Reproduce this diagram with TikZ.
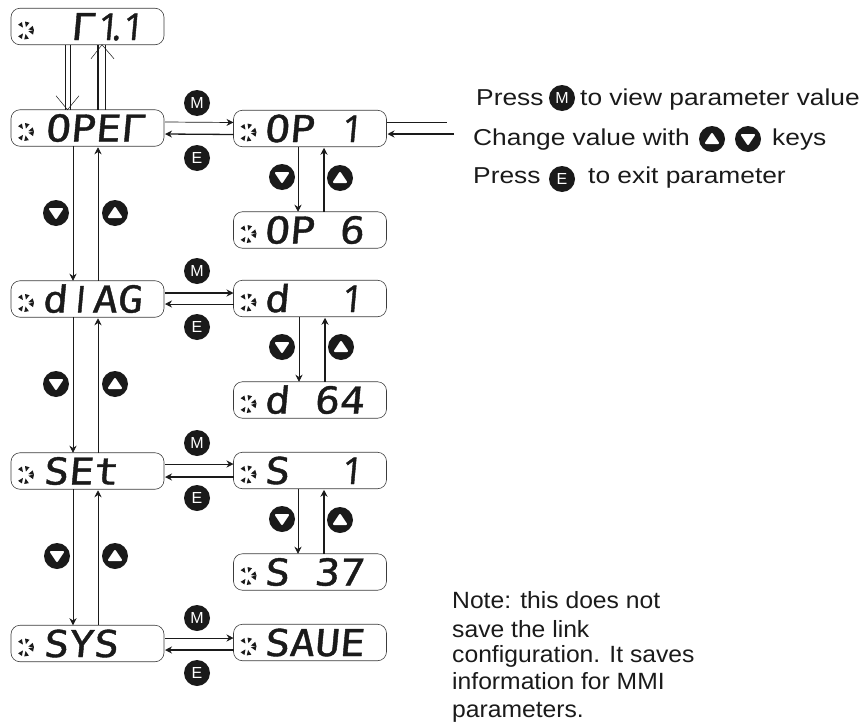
\documentclass[tikz,border=0pt]{standalone}
\usepackage{fontspec}
\setmainfont{Liberation Sans}
\newfontfamily\lcdfont[FakeSlant=0.09,FakeStretch=1.12,FakeBold=1.1]{DejaVu Sans Mono}
\newfontfamily\lcdbar[FakeSlant=0.09,FakeBold=1.1]{Open Sans}
\newfontfamily\bodyfont[FakeStretch=1.145]{Liberation Sans}
\newfontfamily\notefont[FakeStretch=1.05]{Liberation Sans}
\usetikzlibrary{arrows.meta,calc}
\definecolor{ink}{HTML}{1A1A1A}
\newcommand{\barchar}[1]{\makebox[25pt][c]{\lcdbar\fontsize{37}{37}\selectfont #1}}
\tikzset{
  x=1pt,y=-1pt,
  display/.style={draw=ink!85,line width=0.6pt,rounded corners=9pt,minimum width=153pt,minimum height=36.5pt,inner sep=0pt,outer sep=0pt},
  lcd/.style={anchor=base west,inner sep=0pt,text=ink,font=\lcdfont\fontsize{37}{37}\selectfont},
  thinarr/.style={draw=ink,line width=0.7pt,-{Stealth[length=7pt,width=7pt]}},
  thickarr/.style={draw=ink,line width=1.3pt,-{Stealth[length=7pt,width=7pt]}},
  keydisc/.style={circle,fill=ink,minimum size=26pt,inner sep=0pt,text=white,font=\fontsize{16}{16}\selectfont},
  body/.style={anchor=base west,inner sep=0pt,text=ink,font=\bodyfont\fontsize{23}{23}\selectfont},
  note/.style={anchor=base west,inner sep=0pt,text=ink,font=\notefont\fontsize{23.5}{23.5}\selectfont},
  pics/fan/.style={code={
    \foreach \a in {12,-16,80,125,235,285}
      \fill[ink] (\a-15:9)--(\a+15:9)--(\a:3.5)--cycle;}},
  pics/downtri/.style={code={\fill[white,draw=white,line width=2pt,line join=round] (-6,-4)--(6,-4)--(0,5)--cycle;}},
  pics/uptri/.style={code={\fill[white,draw=white,line width=2pt,line join=round] (-6,4)--(6,4)--(0,-5)--cycle;}},
}
\newcommand{\disp}[5]{% name, centre x, centre y, text start x, text
  \node[display] (#1) at (#2,#3) {};
  \pic at ($(#1.west)+(14,4)$) {fan};
  \node[lcd] (#1t) at (#4,#3+13.5) {#5};}
\begin{document}
\begin{tikzpicture}
\useasboundingbox (0,0) rectangle (863,723);
% left column
\disp{root}{87.5}{26.5}{45}{\makebox[25pt]{}Γ\barchar{1}\rlap{\kern-9pt\lcdbar\fontsize{37}{37}\selectfont .}\barchar{1}}
\disp{oper}{87.5}{128}{45}{OPEΓ}
\disp{diag}{87.5}{299}{42}{d\barchar{I}AG}
\disp{setm}{87.5}{471}{43}{SEt}
\disp{sysm}{87.5}{643.5}{43}{SYS}
% right column
\disp{opa}{310}{128.5}{264}{OP \barchar{1}}
\disp{opb}{310}{230}{264}{OP 6}
\disp{da}{310}{298.5}{264}{d\makebox[50pt]{}\barchar{1}}
\disp{db}{310}{400}{264}{d 64}
\disp{sa}{310}{470.5}{264}{S\makebox[50pt]{}\barchar{1}}
\disp{sb}{310}{572}{264}{S 37}
\disp{save}{310}{642.5}{264}{SAUE}
% double arrows root <-> oper
\draw[ink,line width=1pt] ([xshift=-22.5pt]root.south) -- ([xshift=-22.5pt]oper.north);
\draw[ink,line width=1pt] ([xshift=-17.5pt]root.south) -- ([xshift=-17.5pt]oper.north);
\draw[ink,line width=0.5pt] ([xshift=-31.5pt,yshift=14pt]oper.north) -- ([xshift=-20pt]oper.north) -- ([xshift=-8.5pt,yshift=14pt]oper.north);
\draw[ink,line width=1.2pt] ([xshift=10.5pt]oper.north) -- ([xshift=10.5pt]root.south);
\draw[ink,line width=0.7pt] ([xshift=17.5pt]oper.north) -- ([xshift=17.5pt]root.south);
\draw[ink,line width=0.5pt] ([xshift=3.5pt,yshift=-14pt]root.south) -- ([xshift=14.5pt]root.south) -- ([xshift=26.5pt,yshift=-14pt]root.south);
% left vertical
\foreach \u/\v in {oper/diag,diag/setm,setm/sysm}{
  \draw[thinarr] ([xshift=-14.5pt]\u.south) -- ([xshift=-14.5pt]\v.north);
  \draw[thinarr] ([xshift=10.5pt]\v.north) -- ([xshift=10.5pt,yshift=-1pt]\u.south);
}
% right vertical
\draw[thinarr] ([xshift=-12pt]opa.south) -- ([xshift=-12pt]opb.north);
\draw[thickarr] ([xshift=14pt]opb.north) -- ([xshift=14pt,yshift=-1pt]opa.south);
\draw[thinarr] ([xshift=-11pt]da.south) -- ([xshift=-11pt]db.north);
\draw[thickarr] ([xshift=15pt]db.north) -- ([xshift=15pt,yshift=-1pt]da.south);
\draw[thinarr] ([xshift=-12pt]sa.south) -- ([xshift=-12pt]sb.north);
\draw[thickarr] ([xshift=14pt]sb.north) -- ([xshift=14pt,yshift=-1pt]sa.south);
% horizontal
\draw[thinarr] ([yshift=6pt,xshift=1pt]oper.east) -- ([yshift=6pt]opa.west);
\draw[thickarr] ([yshift=-6pt]opa.west) -- ([yshift=-6pt,xshift=1pt]oper.east);
\draw[thickarr] ([yshift=6pt,xshift=1pt]diag.east) -- ([yshift=5.5pt]da.west);
\draw[thinarr] ([yshift=-5.5pt]da.west) -- ([yshift=-5pt,xshift=1pt]diag.east);
\draw[thinarr] ([yshift=7pt,xshift=1pt]setm.east) -- ([yshift=6.5pt]sa.west);
\draw[thickarr] ([yshift=-6.5pt]sa.west) -- ([yshift=-6pt,xshift=1pt]setm.east);
\draw[thinarr] ([yshift=5.5pt,xshift=1pt]sysm.east) -- ([yshift=4.5pt]save.west);
\draw[thickarr] ([yshift=-7.5pt]save.west) -- ([yshift=-6.5pt,xshift=1pt]sysm.east);
% right feed lines
\coordinate (fa) at (447,122);
\coordinate (fb) at (454,134);
\draw[ink,line width=0.6pt] (opa.east |- fa) -- (fa);
\draw[thickarr] (fb) -- ([xshift=1pt]opa.east |- fb);
% keys
\foreach \n/\x/\y in {m1/197/103,m2/197/271,m3/197/443,m4/197/618,m5/562/98}
  \node[keydisc] (\n) at (\x,\y) {M};
\foreach \n/\x/\y in {e1/197/158,e2/197/327,e3/197/498,e4/197/673,e5/562/179}
  \node[keydisc] (\n) at (\x,\y) {E};
\foreach \n/\x/\y in {d1/56/213,d2/56/384,d3/57/556,d4/282/177,d5/282/347,d6/282/519,d7/748/139}{
  \node[keydisc] (\n) at (\x,\y) {};
  \pic at (\n) {downtri};}
\foreach \n/\x/\y in {u1/115/213,u2/115/384,u3/115/556,u4/340/178,u5/341/347,u6/340/520,u7/712/139}{
  \node[keydisc] (\n) at (\x,\y) {};
  \pic at (\n) {uptri};}
% instructions
\node[body] (t1) at (476,105) {Press};
\node[body] (t2) at (580,105) {to view parameter value};
\node[body] (t3) at (473,145) {Change value with};
\node[body] (t4) at (772,145) {keys};
\node[body] (t5) at (473,183) {Press};
\node[body] (t6) at (588,183) {to exit parameter};
% note
\node[note] (n1) at (452,608) {Note: this does not};
\node[note] (n2) at (452,637) {save the link};
\node[note] (n3) at (452,662) {configuration. It saves};
\node[note] (n4) at (452,689) {information for MMI};
\node[note] (n5) at (452,717) {parameters.};
\end{tikzpicture}
\end{document}
